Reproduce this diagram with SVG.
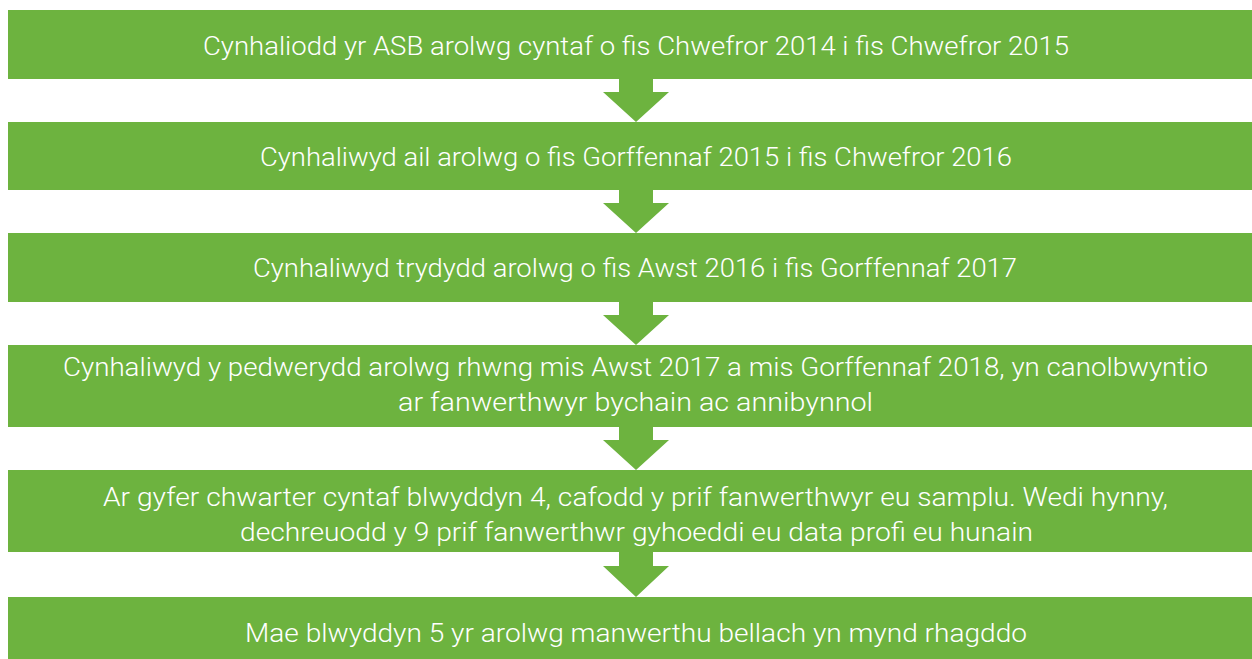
<svg xmlns="http://www.w3.org/2000/svg" width="1252" height="659" viewBox="0 0 1252 659">
<style>
.box{fill:#6db33f}
.arr{fill:#6db33f}
.t{fill:#ffffff;font-family:Roboto,"Liberation Sans",sans-serif;font-size:26px;font-weight:300;text-anchor:middle}
</style>
<rect width="1252" height="659" fill="#ffffff"/>
<g id="connectors">
<path class="arr" d="M619,78 H653 V92 H669 L636,122 L603,92 H619 Z"/>
<path class="arr" d="M619,189 H653 V203 H669 L636,233 L603,203 H619 Z"/>
<path class="arr" d="M619,301 H653 V315 H669 L636,345 L603,315 H619 Z"/>
<path class="arr" d="M619,426 H653 V440 H669 L636,470 L603,440 H619 Z"/>
<path class="arr" d="M619,551 H653 V566 H669 L636,597 L603,566 H619 Z"/>
</g>
<g id="node1">
<rect class="box" x="8" y="10" width="1244" height="69"/>
<text class="t" x="636" y="55" textLength="866" lengthAdjust="spacingAndGlyphs">Cynhaliodd yr ASB arolwg cyntaf o fis Chwefror 2014 i fis Chwefror 2015</text>
</g>
<g id="node2">
<rect class="box" x="8" y="122" width="1244" height="68"/>
<text class="t" x="636" y="166" textLength="752" lengthAdjust="spacingAndGlyphs">Cynhaliwyd ail arolwg o fis Gorffennaf 2015 i fis Chwefror 2016</text>
</g>
<g id="node3">
<rect class="box" x="8" y="233" width="1244" height="69"/>
<text class="t" x="635" y="277" textLength="764" lengthAdjust="spacingAndGlyphs">Cynhaliwyd trydydd arolwg o fis Awst 2016 i fis Gorffennaf 2017</text>
</g>
<g id="node4">
<rect class="box" x="8" y="345" width="1244" height="82"/>
<text class="t" x="635.5" y="376" textLength="1145" lengthAdjust="spacingAndGlyphs">Cynhaliwyd y pedwerydd arolwg rhwng mis Awst 2017 a mis Gorffennaf 2018, yn canolbwyntio</text>
<text class="t" x="635.5" y="411" textLength="475" lengthAdjust="spacingAndGlyphs">ar fanwerthwyr bychain ac annibynnol</text>
</g>
<g id="node5">
<rect class="box" x="8" y="470" width="1244" height="82"/>
<text class="t" x="635.5" y="506" textLength="1065" lengthAdjust="spacingAndGlyphs">Ar gyfer chwarter cyntaf blwyddyn 4, cafodd y prif fanwerthwyr eu samplu. Wedi hynny,</text>
<text class="t" x="636.5" y="541" textLength="793" lengthAdjust="spacingAndGlyphs">dechreuodd y 9 prif fanwerthwr gyhoeddi eu data profi eu hunain</text>
</g>
<g id="node6">
<rect class="box" x="8" y="597" width="1244" height="62"/>
<text class="t" x="636" y="642" textLength="782" lengthAdjust="spacingAndGlyphs">Mae blwyddyn 5 yr arolwg manwerthu bellach yn mynd rhagddo</text>
</g>
</svg>
